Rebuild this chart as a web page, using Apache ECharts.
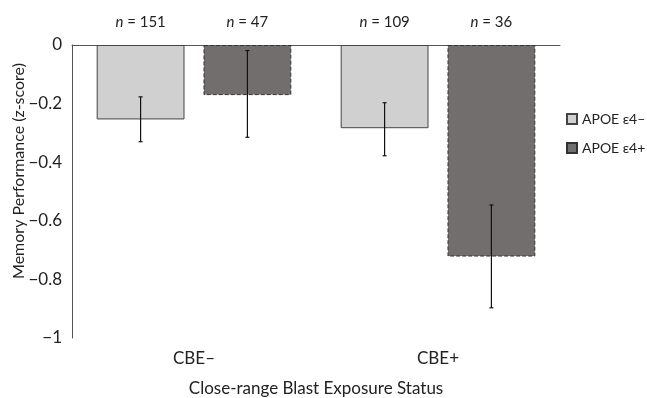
<!DOCTYPE html>
<html><head><meta charset="utf-8">
<script src="https://cdn.jsdelivr.net/npm/echarts@6/dist/echarts.min.js"></script>
<style>html,body{margin:0;padding:0;background:#fff}#c{width:647px;height:398px}</style>
</head><body><div id="c"></div>
<script>
const categories = ['CBE\u2013', 'CBE+'];
const seriesNames = ['APOE \u03b54\u2013', 'APOE \u03b54+'];
const meanNeg = [-0.254, -0.284];
const meanPos = [-0.171, -0.722];
const errLowNeg = [-0.330, -0.378];
const errHighNeg = [-0.177, -0.197];
const errLowPos = [-0.315, -0.897];
const errHighPos = [-0.019, -0.546];
const nNeg = ['151', '109'];
const nPos = ['47', '36'];
const xTitle = 'Close-range Blast Exposure Status';
const yTitle = 'Memory Performance (z-score)';

const FONT = 'Lato';
const BARW = 0.36, GAP = 0.216;

function errSeries(lows, highs, side) {
  return {
    type: 'custom', xAxisIndex: 0, z: 10,
    data: categories.map((c, i) => [i, lows[i], highs[i]]),
    renderItem: function (params, api) {
      const band = api.size([1, 0])[0];
      const off = band * (BARW + BARW * GAP) / 2 * side;
      const p1 = api.coord([api.value(0), api.value(1)]);
      const p2 = api.coord([api.value(0), api.value(2)]);
      const x = p1[0] + off;
      const cap = 2;
      const st = { stroke: '#111', lineWidth: 1.2 };
      return { type: 'group', children: [
        { type: 'line', shape: { x1: x, y1: p1[1], x2: x, y2: p2[1] }, style: st },
        { type: 'line', shape: { x1: x - cap, y1: p1[1], x2: x + cap, y2: p1[1] }, style: st },
        { type: 'line', shape: { x1: x - cap, y1: p2[1], x2: x + cap, y2: p2[1] }, style: st }
      ]};
    }
  };
}

const chart = echarts.init(document.getElementById('c'));
chart.setOption({
  animation: false,
  textStyle: { fontFamily: FONT, color: '#222' },
  grid: { left: 72, right: 87, top: 45, bottom: 60, outerBoundsMode: 'none', containLabel: false },
  graphic: [{
    type: 'text', rotation: Math.PI / 2, x: 19, y: 171,
    style: { text: yTitle, fontFamily: FONT, fontSize: 16, fill: '#222', align: 'center', verticalAlign: 'middle' }
  }],
  legend: {
    orient: 'vertical', left: 566, top: 112, itemWidth: 10, itemHeight: 10, itemGap: 15,
    icon: 'rect', padding: 0,
    textStyle: { fontFamily: FONT, fontSize: 14, color: '#222' },
    data: seriesNames
  },
  xAxis: [{
    type: 'category', data: categories, position: 'bottom',
    axisLine: { show: false, onZero: false }, axisTick: { show: false },
    axisLabel: { fontSize: 17, color: '#222', margin: 12 },
    name: xTitle, nameLocation: 'middle', nameGap: 42,
    nameTextStyle: { fontSize: 17, color: '#222', verticalAlign: 'top' }
  }, {
    type: 'category', data: categories, position: 'top',
    axisLine: { show: true, onZero: false, lineStyle: { color: '#555', width: 1 } },
    axisTick: { show: false }, axisLabel: { show: false }
  }],
  yAxis: {
    type: 'value', min: -1, max: 0, interval: 0.2,
    axisLine: { show: true, lineStyle: { color: '#555', width: 1 } },
    axisTick: { show: false }, splitLine: { show: false },
    axisLabel: { fontSize: 17, color: '#222', margin: 10,
      formatter: v => String(Math.round(v * 10) / 10).replace('-', '\u2212') }
  },
  series: [{
    name: seriesNames[0], type: 'bar', xAxisIndex: 0, data: meanNeg,
    barWidth: (BARW * 100) + '%', barGap: (GAP * 100) + '%',
    itemStyle: { color: '#d0d0d0', borderColor: '#444', borderWidth: 1 },
    label: { show: true, position: 'top', distance: 15, fontSize: 15, color: '#222',
      formatter: p => '{i|n} = ' + nNeg[p.dataIndex],
      rich: { i: { fontStyle: 'italic', fontSize: 15, fontFamily: FONT, color: '#222' } } }
  }, {
    name: seriesNames[1], type: 'bar', xAxisIndex: 0, data: meanPos,
    barWidth: (BARW * 100) + '%', barGap: (GAP * 100) + '%',
    itemStyle: { color: '#726e6d', borderColor: '#333', borderWidth: 1, borderType: [4, 2] },
    label: { show: true, position: 'top', distance: 15, fontSize: 15, color: '#222',
      formatter: p => '{i|n} = ' + nPos[p.dataIndex],
      rich: { i: { fontStyle: 'italic', fontSize: 15, fontFamily: FONT, color: '#222' } } }
  },
  errSeries(errLowNeg, errHighNeg, -1),
  errSeries(errLowPos, errHighPos, 1)
  ]
});
</script></body></html>
